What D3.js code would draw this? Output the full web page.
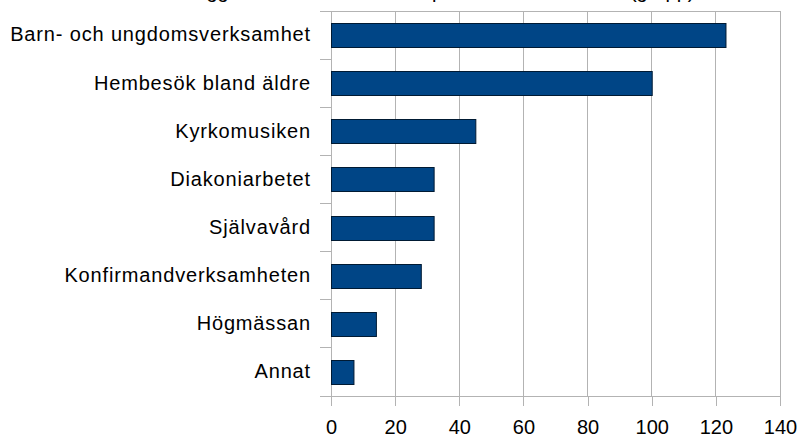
<!DOCTYPE html>
<html>
<head>
<meta charset="utf-8">
<script src="https://cdn.jsdelivr.net/npm/d3@7"></script>
<style>
  body { margin: 0; background: #fff; }
  text { font-family: "Liberation Sans", Arial, sans-serif; fill: #000; }
</style>
</head>
<body>
<div class="chart"></div>
<script>
// chart data
var titleText = "Vill lägga mer tid och kraft i respektive arbetsområde (grupp)";
var categories = ["Barn- och ungdomsverksamhet",
                  "Hembesök bland äldre",
                  "Kyrkomusiken",
                  "Diakoniarbetet",
                  "Självavård",
                  "Konfirmandverksamheten",
                  "Högmässan",
                  "Annat"];
var values = [123, 100, 45, 32, 32, 28, 14, 7];
var xTicks = [0, 20, 40, 60, 80, 100, 120, 140];

var svgWidth = 802;
var svgHeight = 439;
var margin = { top: 11, right: 22, bottom: 43, left: 331 };
var chartWidth = svgWidth - margin.left - margin.right;
var chartHeight = svgHeight - margin.top - margin.bottom;

var svg = d3.select(".chart")
  .append("svg")
  .attr("width", svgWidth)
  .attr("height", svgHeight);

// title sits above the top edge, only the descenders show
svg.append("text")
  .attr("x", 159)
  .attr("y", -2.5)
  .attr("font-size", "20px")
  .text(titleText);

var chartGroup = svg.append("g")
  .attr("transform", `translate(${margin.left}, ${margin.top})`);

var xScale = d3.scaleLinear()
  .domain([0, 140])
  .range([0, chartWidth]);

var yScale = d3.scaleBand()
  .domain(categories)
  .range([0, chartHeight])
  .paddingInner(0.5)
  .paddingOuter(0.25);

// vertical gridlines
chartGroup.append("g")
  .selectAll("line")
  .data(xTicks)
  .enter()
  .append("line")
  .attr("x1", d => xScale(d))
  .attr("x2", d => xScale(d))
  .attr("y1", 0)
  .attr("y2", chartHeight)
  .attr("stroke", "#b3b3b3")
  .attr("shape-rendering", "crispEdges");

// top border
chartGroup.append("line")
  .attr("x1", -11).attr("x2", chartWidth)
  .attr("y1", 0).attr("y2", 0)
  .attr("stroke", "#b3b3b3")
  .attr("shape-rendering", "crispEdges");

// x axis
var xAxis = d3.axisBottom(xScale)
  .tickValues(xTicks)
  .tickSize(10)
  .tickSizeOuter(0)
  .tickPadding(14);

var xAxisGroup = chartGroup.append("g")
  .attr("transform", `translate(0, ${chartHeight})`)
  .call(xAxis);
xAxisGroup.select(".domain").remove();
xAxisGroup.selectAll("line").attr("stroke", "#b3b3b3").attr("shape-rendering", "crispEdges");
xAxisGroup.selectAll("text")
  .attr("font-size", "20px")
  .attr("font-family", "Liberation Sans, Arial, sans-serif")
  .attr("fill", "#000");

chartGroup.append("line")
  .attr("x1", -11).attr("x2", chartWidth)
  .attr("y1", chartHeight).attr("y2", chartHeight)
  .attr("stroke", "#b3b3b3")
  .attr("shape-rendering", "crispEdges");

// y axis: labels on band centres, ticks on band boundaries
var yAxis = d3.axisLeft(yScale)
  .tickSize(0)
  .tickPadding(20);

var yAxisGroup = chartGroup.append("g").call(yAxis);
yAxisGroup.select(".domain").remove();
yAxisGroup.selectAll("text")
  .attr("font-size", "20px")
  .attr("letter-spacing", "0.85px")
  .attr("font-family", "Liberation Sans, Arial, sans-serif")
  .attr("fill", "#000");

var step = yScale.step();
chartGroup.append("g")
  .selectAll("line")
  .data(d3.range(categories.length + 1))
  .enter()
  .append("line")
  .attr("x1", -11).attr("x2", 0)
  .attr("y1", i => i * step)
  .attr("y2", i => i * step)
  .attr("stroke", "#b3b3b3")
  .attr("shape-rendering", "crispEdges");

chartGroup.append("line")
  .attr("x1", 0).attr("x2", 0)
  .attr("y1", 0).attr("y2", chartHeight)
  .attr("stroke", "#b3b3b3")
  .attr("shape-rendering", "crispEdges");

// bars
chartGroup.append("g")
  .selectAll("rect")
  .data(values)
  .enter()
  .append("rect")
  .attr("x", xScale(0) + 0.5)
  .attr("y", (d, i) => Math.round(yScale(categories[i])) + 0.5)
  .attr("width", d => xScale(d) - xScale(0))
  .attr("height", Math.round(yScale.bandwidth()))
  .attr("fill", "#004586")
  .attr("stroke", "#001a33")
  .attr("stroke-width", 1);
</script>
</body>
</html>
